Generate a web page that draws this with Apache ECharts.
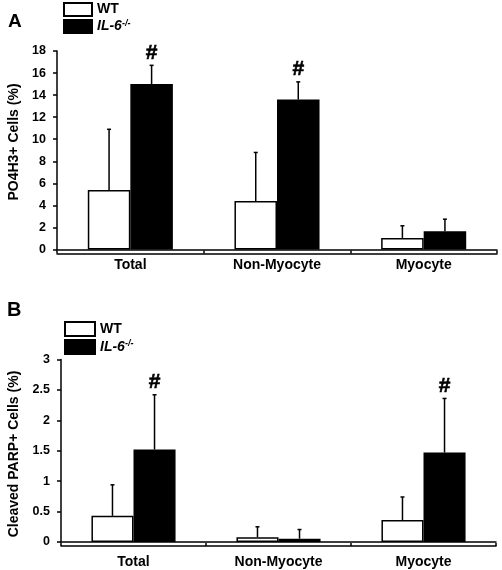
<!DOCTYPE html>
<html>
<head>
<meta charset="utf-8">
<script src="https://cdn.jsdelivr.net/npm/echarts@6/dist/echarts.min.js"></script>
<style>
html,body{margin:0;padding:0;background:#fff;}
#c{width:502px;height:570px;}
</style>
</head>
<body>
<div id="c"></div>
<script>
var categories = ['Total', 'Non-Myocyte', 'Myocyte'];
var seriesNames = ['WT', 'IL-6-/-'];
// Panel A: PO4H3+ cells (%)
var aTitle = 'PO4H3+ Cells (%)';
var aWT = [5.4, 4.4, 1.05];
var aWTsd = [5.5, 4.4, 1.1];
var aIL6 = [15.0, 13.6, 1.65];
var aIL6sd = [1.7, 1.6, 1.1];
var aSig = [1, 1, 0];
var aTicks = [0, 2, 4, 6, 8, 10, 12, 14, 16, 18];
// Panel B: Cleaved PARP+ cells (%)
var bTitle = 'Cleaved PARP+ Cells (%)';
var bWT = [0.43, 0.08, 0.36];
var bWTsd = [0.51, 0.17, 0.38];
var bIL6 = [1.52, 0.055, 1.47];
var bIL6sd = [0.9, 0.15, 0.89];
var bSig = [1, 0, 1];
var bTicks = [0, 0.5, 1, 1.5, 2, 2.5, 3];

var FONT = 'Liberation Sans';
var BW = 0.29; // bar width as fraction of band

function errData(means, sds, sig) {
  return means.map(function (m, i) { return [i, m, m + sds[i], sig ? sig[i] : 0]; });
}
function makeErr(side) {
  return function (params, api) {
    var cat = api.value(0);
    var top = api.value(2);
    var base = api.coord([cat, api.value(1)]);
    var tp = api.coord([cat, top]);
    var band = api.size([1, 0])[0];
    var x = base[0] + side * band * BW / 2;
    var children = [
      { type: 'line', shape: { x1: x, y1: base[1], x2: x, y2: tp[1] }, style: { stroke: '#000', lineWidth: 1.5 } },
      { type: 'line', shape: { x1: x - 2, y1: tp[1], x2: x + 2, y2: tp[1] }, style: { stroke: '#000', lineWidth: 1.5 } }
    ];
    if (api.value(3)) {
      children.push({ type: 'text', style: { text: '#', x: x, y: tp[1] - 2, textAlign: 'center', textVerticalAlign: 'bottom', font: 'bold 21px "' + FONT + '"', fill: '#000', stroke: '#000', lineWidth: 0.6 } });
    }
    return { type: 'group', children: children };
  };
}

var legendRich = {
  a: { fontFamily: FONT, fontWeight: 'bold', fontSize: 14, color: '#000' },
  i: { fontFamily: FONT, fontWeight: 'bold', fontStyle: 'italic', fontSize: 14, color: '#000' },
  s: { fontFamily: FONT, fontWeight: 'bold', fontStyle: 'italic', fontSize: 9, color: '#000', verticalAlign: 'top', padding: [0, 0, 6, 0] }
};
function legendFmt(name) { return name === 'WT' ? '{a|WT}' : '{i|IL-6}{s|-/-}'; }

function yAxisCfg(grid, max, interval) {
  return {
    type: 'value', gridIndex: grid, min: 0, max: max, interval: interval,
    axisLine: { show: true, lineStyle: { color: '#000', width: 1.5 } },
    axisTick: { show: true, length: 4, lineStyle: { color: '#000', width: 1.5 } },
    axisLabel: { fontFamily: FONT, fontWeight: 'bold', fontSize: 12.5, color: '#000', margin: 11 },
    splitLine: { show: false }
  };
}
function xAxisMain(grid, margin) {
  return {
    type: 'category', gridIndex: grid, data: categories,
    axisLine: { show: true, lineStyle: { color: '#000', width: 1.5 } },
    axisTick: { show: false },
    axisLabel: { fontFamily: FONT, fontWeight: 'bold', fontSize: 14, color: '#000', margin: margin }
  };
}
function xAxisBrace(grid) {
  return {
    type: 'category', gridIndex: grid, data: categories, position: 'bottom', offset: 4,
    axisLine: { show: true, lineStyle: { color: '#000', width: 1.5 } },
    axisTick: { show: true, inside: true, length: 3, alignWithLabel: false, lineStyle: { color: '#000', width: 1.5 } },
    axisLabel: { show: false }
  };
}
function barSeries(name, data, xi, yi, fill) {
  return {
    name: name, type: 'bar', xAxisIndex: xi, yAxisIndex: yi, data: data,
    barWidth: (BW * 100) + '%', barGap: '0%',
    itemStyle: { color: fill, borderColor: '#000', borderWidth: 1.5 },
    emphasis: { disabled: true }, z: 2
  };
}
function errSeries(data, xi, yi, side) {
  return {
    type: 'custom', xAxisIndex: xi, yAxisIndex: yi, data: data,
    renderItem: makeErr(side), z: 1, silent: true
  };
}
function yTitle(text, x, y) {
  return { type: 'text', x: x, y: y, rotation: Math.PI / 2,
    style: { text: text, textAlign: 'center', textVerticalAlign: 'middle', font: 'bold 14px "' + FONT + '"', fill: '#000' } };
}

var option = {
  animation: false,
  backgroundColor: '#fff',
  title: [
    { text: 'A', left: 3, top: 7, textStyle: { fontFamily: FONT, fontWeight: 'bold', fontSize: 19, color: '#000' } },
    { text: 'B', left: 2, top: 295, textStyle: { fontFamily: FONT, fontWeight: 'bold', fontSize: 20, color: '#000' } }
  ],
  graphic: [yTitle(aTitle, 14, 142), yTitle(bTitle, 14, 454)],
  legend: [
    { data: seriesNames, orient: 'vertical', left: 63, top: 2, padding: 0, itemWidth: 28, itemHeight: 13, itemGap: 2,
      icon: 'rect', formatter: legendFmt, textStyle: { rich: legendRich }, selectedMode: false },
    { data: seriesNames, orient: 'vertical', left: 64, top: 321, padding: 0, itemWidth: 30, itemHeight: 14, itemGap: 2,
      icon: 'rect', formatter: legendFmt, textStyle: { rich: legendRich }, selectedMode: false }
  ],
  grid: [
    { left: 57, right: 5, top: 51, height: 198.5, containLabel: false, outerBoundsMode: 'none' },
    { left: 61, right: 6, top: 359.5, height: 182.5, containLabel: false, outerBoundsMode: 'none' }
  ],
  xAxis: [xAxisMain(0, 9), xAxisBrace(0), xAxisMain(1, 13), xAxisBrace(1)],
  yAxis: [yAxisCfg(0, 18, 2), yAxisCfg(1, 3, 0.5)],
  series: [
    barSeries('WT', aWT, 0, 0, '#fff'),
    barSeries('IL-6-/-', aIL6, 0, 0, '#000'),
    errSeries(errData(aWT, aWTsd, null), 0, 0, -1),
    errSeries(errData(aIL6, aIL6sd, aSig), 0, 0, 1),
    barSeries('WT', bWT, 2, 1, '#fff'),
    barSeries('IL-6-/-', bIL6, 2, 1, '#000'),
    errSeries(errData(bWT, bWTsd, null), 2, 1, -1),
    errSeries(errData(bIL6, bIL6sd, bSig), 2, 1, 1)
  ]
};
var chart = echarts.init(document.getElementById('c'), null, { renderer: 'canvas' });
chart.setOption(option);
</script>
</body>
</html>
